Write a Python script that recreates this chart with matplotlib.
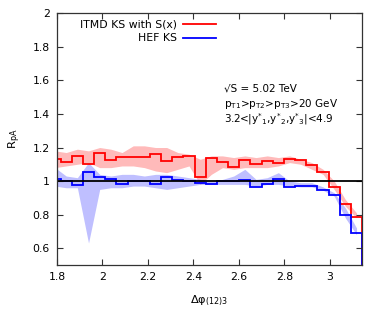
import numpy as np
import matplotlib
matplotlib.use("Agg")
import matplotlib.pyplot as plt
from matplotlib.lines import Line2D

plt.rcParams['font.family'] = ['DejaVu Sans']
plt.rcParams['mathtext.default'] = 'regular'

# bins: 64 bins over [0, pi], shown bins 36..63
bin_index = np.arange(36, 65)
edges = np.pi * bin_index / 64.0
centers = 0.5 * (edges[:-1] + edges[1:])

itmd_vals = [1.132, 1.114, 1.152, 1.104, 1.166, 1.124, 1.142, 1.142, 1.142, 1.162,
             1.122, 1.146, 1.148, 1.027, 1.137, 1.112, 1.084, 1.123, 1.102, 1.122,
             1.105, 1.129, 1.125, 1.098, 1.055, 0.965, 0.862, 0.785]
itmd_up = [1.18, 1.17, 1.19, 1.18, 1.20, 1.19, 1.17, 1.21, 1.21, 1.20,
           1.20, 1.17, 1.16, 1.13, 1.15, 1.15, 1.14, 1.15, 1.14, 1.15,
           1.14, 1.15, 1.13, 1.11, 1.07, 1.00, 0.89, 0.81]
itmd_lo = [1.08, 1.09, 1.10, 1.11, 1.08, 1.08, 1.09, 1.09, 1.08, 1.06,
           1.05, 1.07, 1.09, 0.98, 1.04, 1.08, 1.07, 1.08, 1.08, 1.08,
           1.09, 1.11, 1.10, 1.07, 1.04, 0.95, 0.85, 0.78]

hef_vals = [1.012, 0.999, 0.977, 1.054, 1.022, 1.010, 0.985, 1.001, 1.001, 0.983,
            1.024, 1.007, 1.001, 0.990, 0.980, 1.001, 1.001, 1.006, 0.962, 0.983,
            1.012, 0.967, 0.971, 0.973, 0.948, 0.917, 0.800, 0.688]
hef_up = [1.08, 1.03, 1.02, 1.11, 1.04, 1.03, 1.04, 1.04, 1.03, 1.04,
          1.04, 1.03, 1.02, 1.01, 1.00, 1.01, 1.03, 1.07, 1.01, 1.02,
          1.05, 1.00, 0.99, 0.99, 0.965, 0.93, 0.84, 0.72]
hef_lo = [0.97, 0.96, 0.96, 0.63, 0.95, 0.96, 0.96, 0.97, 0.97, 0.96,
          0.95, 0.96, 0.97, 0.98, 0.98, 0.98, 0.98, 0.98, 0.97, 0.98,
          0.98, 0.97, 0.965, 0.965, 0.945, 0.91, 0.78, 0.68]

labels = ["ITMD KS with S(x)", "HEF KS"]
red = "#ff0000"
blue = "#0000ff"

fig = plt.figure(figsize=(3.82, 3.18), dpi=100)
ax = fig.add_axes([0.149, 0.167, 0.799, 0.791])

ax.fill_between(centers, itmd_lo, itmd_up, color=red, alpha=0.27, lw=0)
ax.fill_between(centers, hef_lo, hef_up, color=blue, alpha=0.25, lw=0)
ax.axhline(1.0, color='black', lw=1.3)
ax.stairs(itmd_vals, edges, color=red, lw=1.3)
ax.stairs(hef_vals, edges, color=blue, lw=1.3)

ax.set_xlim(1.8, np.pi)
ax.set_ylim(0.5, 2.0)
ax.set_xticks([1.8, 2.0, 2.2, 2.4, 2.6, 2.8, 3.0])
ax.set_xticklabels(["1.8", "2", "2.2", "2.4", "2.6", "2.8", "3"])
ax.set_yticks([0.6, 0.8, 1.0, 1.2, 1.4, 1.6, 1.8, 2.0])
ax.set_yticklabels(["0.6", "0.8", "1", "1.2", "1.4", "1.6", "1.8", "2"])
ax.tick_params(direction='in', top=True, right=True, length=4, width=0.8,
               labelsize=7.8, colors='#333333', labelcolor='black', pad=5)
for s in ax.spines.values():
    s.set_color('#333333')
    s.set_linewidth(0.9)

ax.set_ylabel("R$_{pA}$", fontsize=8.2)
ax.set_xlabel("Δφ$_{(12)3}$", fontsize=8.2)
ax.yaxis.set_label_coords(-0.11, 0.5)
ax.xaxis.set_label_coords(0.5, -0.115)

# legend (gnuplot style: text right-aligned, sample line after)
for i, (lab, col) in enumerate(zip(labels, [red, blue])):
    yy = 0.956 - i * 0.053
    ax.text(0.393, yy, lab, transform=ax.transAxes, ha='right', va='center', fontsize=7.8)
    ax.add_line(Line2D([0.413, 0.521], [yy, yy], transform=ax.transAxes, color=col, lw=1.3))

ax.text(0.549, 0.700, "√S = 5.02 TeV", transform=ax.transAxes, ha='left', va='center', fontsize=7.5)
ax.text(0.549, 0.641, "p$_{T1}$>p$_{T2}$>p$_{T3}$>20 GeV", transform=ax.transAxes,
        ha='left', va='center', fontsize=7.5)
ax.text(0.549, 0.578, "3.2<|y$^{*}$$_{1}$,y$^{*}$$_{2}$,y$^{*}$$_{3}$|<4.9", transform=ax.transAxes,
        ha='left', va='center', fontsize=7.5)

fig.savefig("out.png", dpi=100)
